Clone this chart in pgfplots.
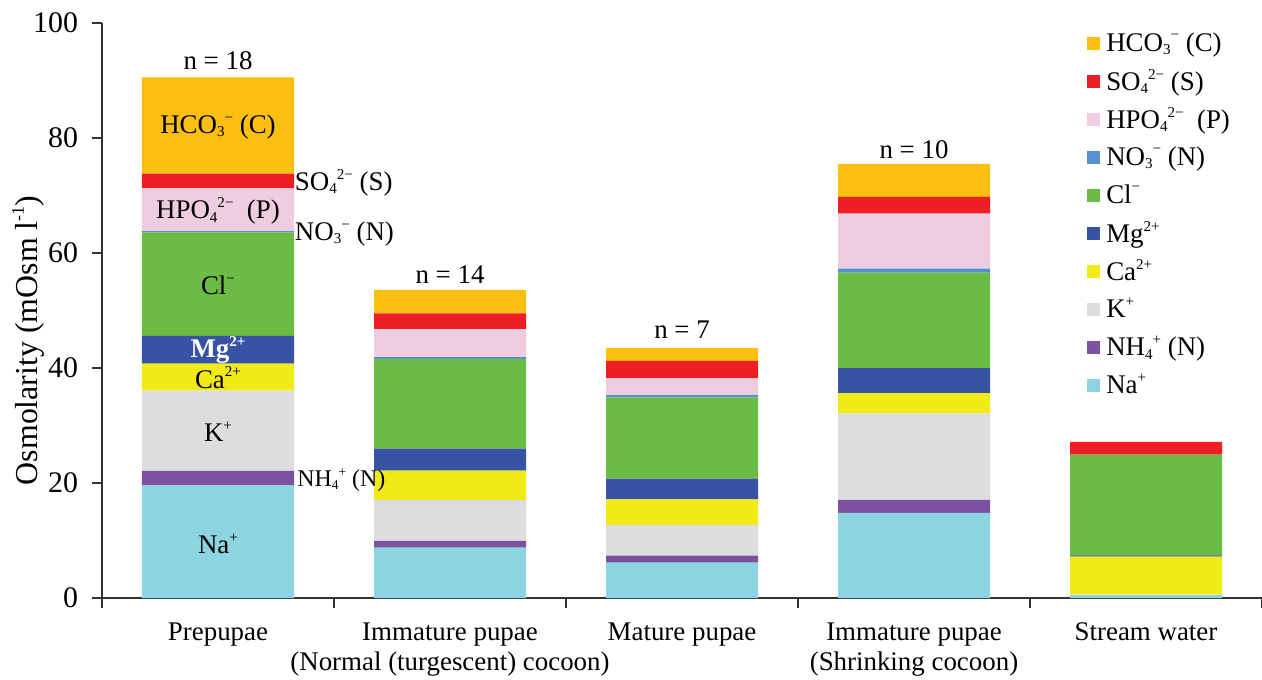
\documentclass[border=0pt]{standalone}
\usepackage{pgfplots}
\pgfplotsset{compat=1.18}
\usepackage{pgfplotstable}
\usepackage{fontspec}
\setmainfont{Liberation Serif}
\definecolor{cHCO}{HTML}{FBBF12}
\definecolor{cSO}{HTML}{EE1F24}
\definecolor{cHPO}{HTML}{EFCDE1}
\definecolor{cNO}{HTML}{5591D0}
\definecolor{cCl}{HTML}{6BBC45}
\definecolor{cMg}{HTML}{3953A4}
\definecolor{cCa}{HTML}{F2EA17}
\definecolor{cK}{HTML}{DCDDDF}
\definecolor{cNH}{HTML}{7A52A0}
\definecolor{cNa}{HTML}{8BD4E0}
\definecolor{axgray}{HTML}{333333}
\pgfplotstableread{
x Na NH4 K Ca Mg Cl NO3 HPO4 SO4 HCO3
0 19.6 2.5 13.95 4.7 4.85 18.0 0.2 7.45 2.55 16.75
1 8.75 1.2 7.1 5.1 3.85 15.6 0.3 4.85 2.75 4.1
2 6.15 1.2 5.35 4.45 3.6 14.15 0.4 2.95 3.0 2.2
3 14.8 2.25 15.05 3.55 4.35 16.6 0.7 9.55 2.9 5.75
4 0.5 0 0.1 6.6 0.2 17.55 0 0 2.2 0
}\data
\newcommand{\fnt}{\fontsize{13.5}{15}\selectfont}
\newcommand{\sub}[1]{\raisebox{-0.12em}{\fontsize{0.56em}{1em}\selectfont #1}}
\newcommand{\sps}[1]{\raisebox{0.42em}{\fontsize{0.56em}{1em}\selectfont #1}}
\begin{document}
\begin{tikzpicture}[font=\fnt]
\begin{axis}[
  scale only axis, width=580bp, height=287.5bp,
  ybar stacked, bar width=76bp,
  xmin=-0.5, xmax=4.5, ymin=0, ymax=100,
  axis x line*=bottom, axis y line*=left,
  axis line style={line width=1bp, color=axgray, -},
  tick align=outside, major tick length=5bp,
  tick style={line width=1bp, color=axgray},
  ytick={0,20,...,100},
  yticklabel style={font=\fontsize{15}{16}\selectfont, xshift=-3.5bp},
  xtick={-0.5,0.5,...,4.5}, xticklabels={},
  extra x ticks={0,1,2,3,4},
  extra x tick labels={Prepupae,{Immature pupae\\(Normal (turgescent) cocoon)},Mature pupae,{Immature pupae\\(Shrinking cocoon)},Stream water},
  extra x tick style={tick style={draw=none}},
  xticklabel style={font=\fnt, align=center, anchor=north, inner sep=0pt, yshift=-7.3bp},
  /pgf/number format/assume math mode=true,
  ylabel={Osmolarity (mOsm l\sps{-1})},
  every axis y label/.style={at={(rel axis cs:0,0.5)}, rotate=90, anchor=center, yshift=37bp, xshift=-15bp, font=\fontsize{16}{18}\selectfont},
  legend style={at={(rel axis cs:0.849,1)}, anchor=north west, yshift=-0.5bp, draw=none, fill=none,
    inner sep=0pt, row sep=0pt, nodes={inner sep=0pt, minimum height=19bp}, font=\fnt,
    /tikz/every odd column/.append style={column sep=3bp}},
  legend cell align=left, reverse legend,
  sq/.style={draw=none, legend image code/.code={\fill[##1] (0bp,-3.25bp) rectangle (6.5bp,3.25bp);}},
  after end axis/.code={
    \node at (axis cs:0,93.4) {n = 18};
    \node at (axis cs:1,56.3) {n = 14};
    \node at (axis cs:2,46.6) {n = 7};
    \node at (axis cs:3,77.9) {n = 10};
    \node at (axis cs:0,81.9) {HCO\sub{3}\sps{−} (C)};
    \node at (axis cs:0,67.3) {HPO\sub{4}\sps{2−}\ \ (P)};
    \node at (axis cs:0,54.4) {Cl\sps{−}};
    \node at (axis cs:0,43.1) {\textbf{\color{white}Mg\sps{2+}}};
    \node at (axis cs:0,38.3) {Ca\sps{2+}};
    \node at (axis cs:0,28.9) {K\sps{+}};
    \node at (axis cs:0,9.4) {Na\sps{+}};
    \node[anchor=west, inner sep=0pt] at (axis cs:0.33,72.2) {SO\sub{4}\sps{2−} (S)};
    \node[anchor=west, inner sep=0pt] at (axis cs:0.33,63.3) {NO\sub{3}\sps{−} (N)};
    \node[anchor=west, inner sep=0pt, font=\fontsize{12}{14}\selectfont] at (axis cs:0.34,20.5) {NH\sub{4}\sps{+} (N)};
    \coordinate (o) at (rel axis cs:0,0);
    \coordinate (t) at (rel axis cs:1,1);
  },
]
\addplot[fill=cNa, sq] table[x=x,y=Na]{\data};
\addplot[fill=cNH, sq] table[x=x,y=NH4]{\data};
\addplot[fill=cK, sq] table[x=x,y=K]{\data};
\addplot[fill=cCa, sq] table[x=x,y=Ca]{\data};
\addplot[fill=cMg, sq] table[x=x,y=Mg]{\data};
\addplot[fill=cCl, sq] table[x=x,y=Cl]{\data};
\addplot[fill=cNO, sq] table[x=x,y=NO3]{\data};
\addplot[fill=cHPO, sq] table[x=x,y=HPO4]{\data};
\addplot[fill=cSO, sq] table[x=x,y=SO4]{\data};
\addplot[fill=cHCO, sq] table[x=x,y=HCO3]{\data};
\legend{Na\sps{+},NH\sub{4}\sps{+} (N),K\sps{+},Ca\sps{2+},Mg\sps{2+},Cl\sps{−},NO\sub{3}\sps{−} (N),HPO\sub{4}\sps{2−}\ \ (P),SO\sub{4}\sps{2−} (S),HCO\sub{3}\sps{−} (C)}
\end{axis}
\pgfresetboundingbox
\path[use as bounding box] ([xshift=-51bp,yshift=-40.5bp]o) rectangle ([yshift=11.5bp]t);
\end{tikzpicture}
\end{document}
